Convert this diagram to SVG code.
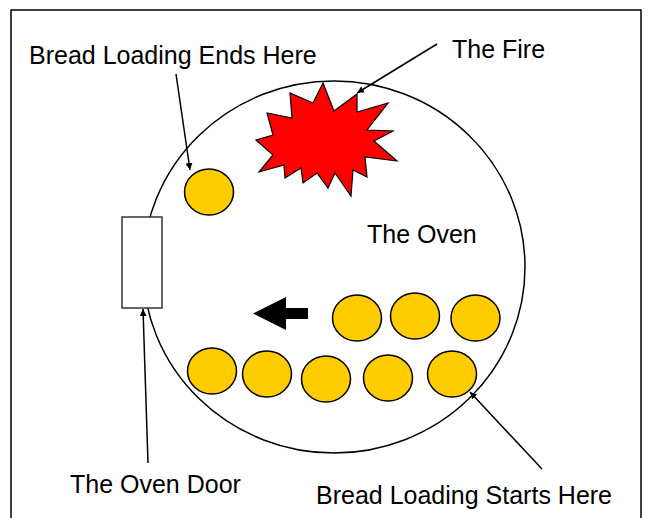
<svg xmlns="http://www.w3.org/2000/svg" width="649" height="518" viewBox="0 0 649 518">
<defs>
<style>
.lbl{font-family:"Liberation Sans",Arial,sans-serif;font-size:25px;fill:#000}
.bread{fill:#FFCC00;stroke:#000;stroke-width:1.5}
.conn{stroke:#000;stroke-width:1.5;fill:none;marker-end:url(#ah)}
</style>
<marker id="ah" viewBox="0 0 10 10" refX="10" refY="5" markerWidth="7" markerHeight="7" markerUnits="userSpaceOnUse" orient="auto">
<path d="M0,0 L10,5 L0,10 z" fill="#000"/>
</marker>
</defs>
<rect width="649" height="518" fill="#fff"/>
<path d="M11,518 V10 H641 V518" fill="none" stroke="#000" stroke-width="1.5"/>
<g id="oven">
<ellipse cx="334" cy="267" rx="191" ry="186" fill="none" stroke="#000" stroke-width="1.5"/>
<text class="lbl" x="367" y="243">The Oven</text>
</g>
<g id="fire">
<polygon points="323,83 334,111 357,94 357,112 388,103 367,130 393,131 374,141 397,161 365,157 367,177 353,170 351,196 335,173 328,188 317,173 303,183 301,168 285,178 284,165 259,172 273,155 256,140 273,135 267,113 292,118 290,93 313,103" fill="#FF0000" stroke="#000" stroke-width="1.2" stroke-linejoin="miter"/>
</g>
<g id="door">
<rect x="122" y="217" width="40" height="91" fill="#fff" stroke="#333" stroke-width="1.5"/>
</g>
<g id="bread-end"><ellipse class="bread" cx="209" cy="192" rx="24.5" ry="23"/></g>
<g id="bread-top1"><ellipse class="bread" cx="357" cy="318" rx="24.5" ry="23"/></g>
<g id="bread-top2"><ellipse class="bread" cx="415" cy="316" rx="24.5" ry="23"/></g>
<g id="bread-top3"><ellipse class="bread" cx="475.5" cy="318" rx="24.5" ry="23"/></g>
<g id="bread-b1"><ellipse class="bread" cx="212" cy="371" rx="24.5" ry="23"/></g>
<g id="bread-b2"><ellipse class="bread" cx="267" cy="374" rx="24.5" ry="23"/></g>
<g id="bread-b3"><ellipse class="bread" cx="326" cy="379" rx="24.5" ry="23"/></g>
<g id="bread-b4"><ellipse class="bread" cx="388" cy="378" rx="24.5" ry="23"/></g>
<g id="bread-b5"><ellipse class="bread" cx="452" cy="374" rx="24.5" ry="23"/></g>
<g id="direction-arrow">
<polygon points="253,313.5 286,297 286,308 308,308 308,319 286,319 286,330" fill="#000"/>
</g>
<g id="label-ends"><text class="lbl" x="29" y="64">Bread Loading Ends Here</text></g>
<g id="label-fire"><text class="lbl" x="452" y="58">The Fire</text></g>
<g id="label-door"><text class="lbl" x="70" y="493">The Oven Door</text></g>
<g id="label-starts"><text class="lbl" x="316" y="504">Bread Loading Starts Here</text></g>
<g id="connectors">
<line class="conn" x1="437" y1="44" x2="357" y2="93"/>
<line class="conn" x1="176" y1="74" x2="190" y2="170"/>
<line class="conn" x1="148" y1="463" x2="143" y2="309"/>
<line class="conn" x1="542" y1="469" x2="470" y2="392"/>
</g>
</svg>
